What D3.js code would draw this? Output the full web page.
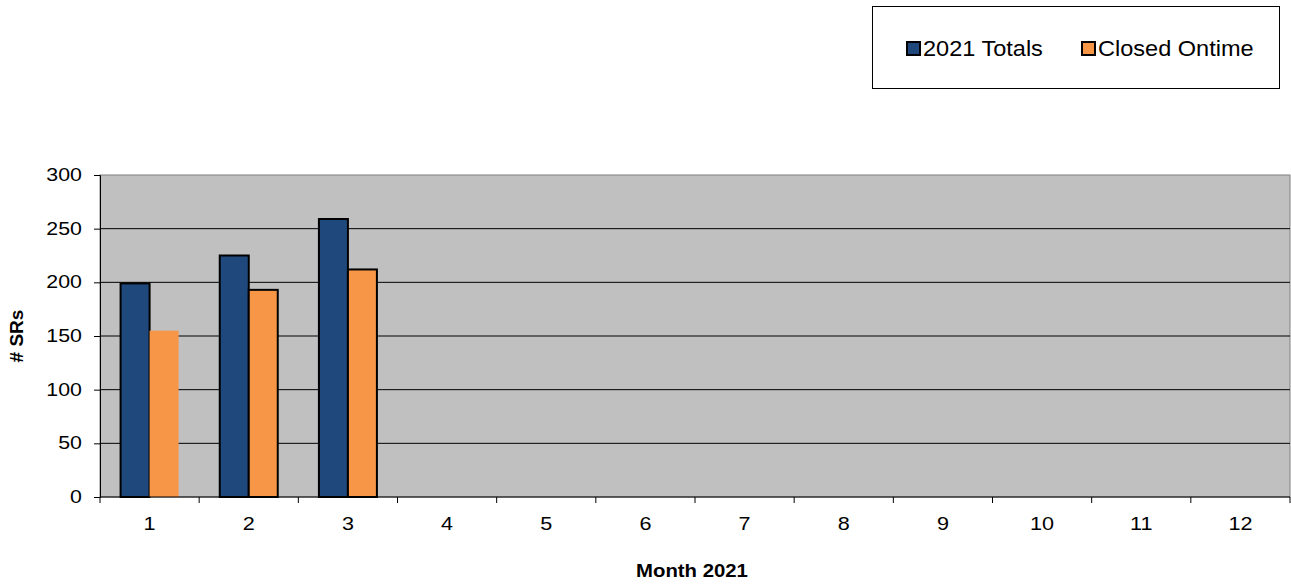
<!DOCTYPE html>
<html>
<head>
<meta charset="utf-8">
<script src="https://cdn.jsdelivr.net/npm/d3@7"></script>
<style>
  body { margin: 0; background: #fff; }
  text { font-family: "Liberation Sans", Arial, sans-serif; }
  .stretch { transform-box: fill-box; }
</style>
</head>
<body>
<svg id="chart" width="1291" height="587"></svg>
<script>
const months = ['1', '2', '3', '4', '5', '6', '7', '8', '9', '10', '11', '12'];
const totals = [199, 225, 259, null, null, null, null, null, null, null, null, null];
const closedOntime = [155, 193, 212, null, null, null, null, null, null, null, null, null];
const seriesNames = ['2021 Totals', 'Closed Ontime'];
const yTicks = [0, 50, 100, 150, 200, 250, 300];

const colors = ['#1f497d', '#f79646'];

const svg = d3.select('#chart');
const plotL = 100, plotR = 1290, plotT = 175, plotB = 497;

const x = d3.scaleBand().domain(months).range([plotL, plotR]);
const x1 = d3.scaleBand().domain(seriesNames).range([0, 58]);
const y = d3.scaleLinear().domain([0, 300]).range([plotB, plotT]);

// plot background
svg.append('rect')
  .attr('x', plotL).attr('y', plotT)
  .attr('width', plotR - plotL).attr('height', plotB - plotT)
  .attr('fill', '#c0c0c0')
  .attr('stroke', '#808080').attr('stroke-width', 1);

// gridlines
svg.append('g').selectAll('line')
  .data(yTicks.filter(d => d > 0 && d < 300))
  .enter().append('line')
  .attr('x1', plotL).attr('x2', plotR)
  .attr('y1', d => y(d)).attr('y2', d => y(d))
  .attr('stroke', '#000').attr('stroke-width', 1);

// bars
const rows = months.map((m, i) => ({ month: m, values: [totals[i], closedOntime[i]] }));
const groups = svg.append('g').selectAll('g')
  .data(rows).enter().append('g')
  .attr('transform', d => `translate(${x(d.month) + (x.bandwidth() - 58) / 2},0)`);

groups.selectAll('rect')
  .data((d, i) => d.values.map((v, j) => ({ v, j, i })).filter(e => e.v != null))
  .enter().append('rect')
  .attr('x', e => x1(seriesNames[e.j]))
  .attr('y', e => y(e.v))
  .attr('width', x1.bandwidth())
  .attr('height', e => plotB - y(e.v))
  .attr('fill', e => colors[e.j])
  .attr('stroke', e => (e.i === 0 && e.j === 1) ? 'none' : '#000')
  .attr('stroke-width', 2);

// y axis
const yAxis = svg.append('g')
  .attr('transform', `translate(${plotL},0)`)
  .call(d3.axisLeft(y).tickValues(yTicks).tickSize(6).tickPadding(12));
yAxis.select('.domain').attr('stroke', '#000');
yAxis.selectAll('text')
  .attr('class', 'stretch')
  .style('font-size', '17.5px').attr('fill', '#000')
  .style('transform-origin', 'right center').style('transform', 'scaleX(1.22)');

// x axis with ticks at category boundaries
const xAxis = svg.append('g').attr('transform', `translate(0,${plotB})`);
xAxis.append('line').attr('x1', plotL).attr('x2', plotR).attr('stroke', '#000');
xAxis.selectAll('line.tk')
  .data(months.concat(['end']))
  .enter().append('line').attr('class', 'tk')
  .attr('x1', (d, i) => i < months.length ? x(d) : plotR)
  .attr('x2', (d, i) => i < months.length ? x(d) : plotR)
  .attr('y1', 0).attr('y2', 6).attr('stroke', '#000');
xAxis.selectAll('text')
  .data(months).enter().append('text')
  .attr('class', 'stretch')
  .attr('x', d => x(d) + x.bandwidth() / 2)
  .attr('y', 33)
  .attr('text-anchor', 'middle')
  .style('font-size', '18px')
  .style('transform-origin', 'center').style('transform', 'scaleX(1.2)')
  .text(d => d);

// axis titles
svg.append('text')
  .attr('class', 'stretch')
  .attr('x', 692).attr('y', 577)
  .attr('text-anchor', 'middle')
  .style('font-size', '18.5px').style('font-weight', 'bold')
  .style('transform-origin', 'center').style('transform', 'scaleX(1.1)')
  .text('Month 2021');

svg.append('text')
  .attr('transform', 'translate(23,336) rotate(-90)')
  .attr('text-anchor', 'middle')
  .style('font-size', '19px').style('font-weight', 'bold')
  .text('# SRs');

// legend
const legend = svg.append('g');
legend.append('rect')
  .attr('x', 872.5).attr('y', 6.5).attr('width', 407).attr('height', 82)
  .attr('fill', '#fff').attr('stroke', '#000');
const legendX = [907, 1082];
seriesNames.forEach((name, i) => {
  legend.append('rect')
    .attr('x', legendX[i]).attr('y', 42).attr('width', 13).attr('height', 13)
    .attr('fill', colors[i]).attr('stroke', '#000').attr('stroke-width', 2);
  legend.append('text')
    .attr('class', 'stretch')
    .attr('x', legendX[i] + 16).attr('y', 56)
    .style('font-size', '22px')
    .style('transform-origin', 'left center').style('transform', 'scaleX(1.07)')
    .text(name);
});
</script>
</body>
</html>
